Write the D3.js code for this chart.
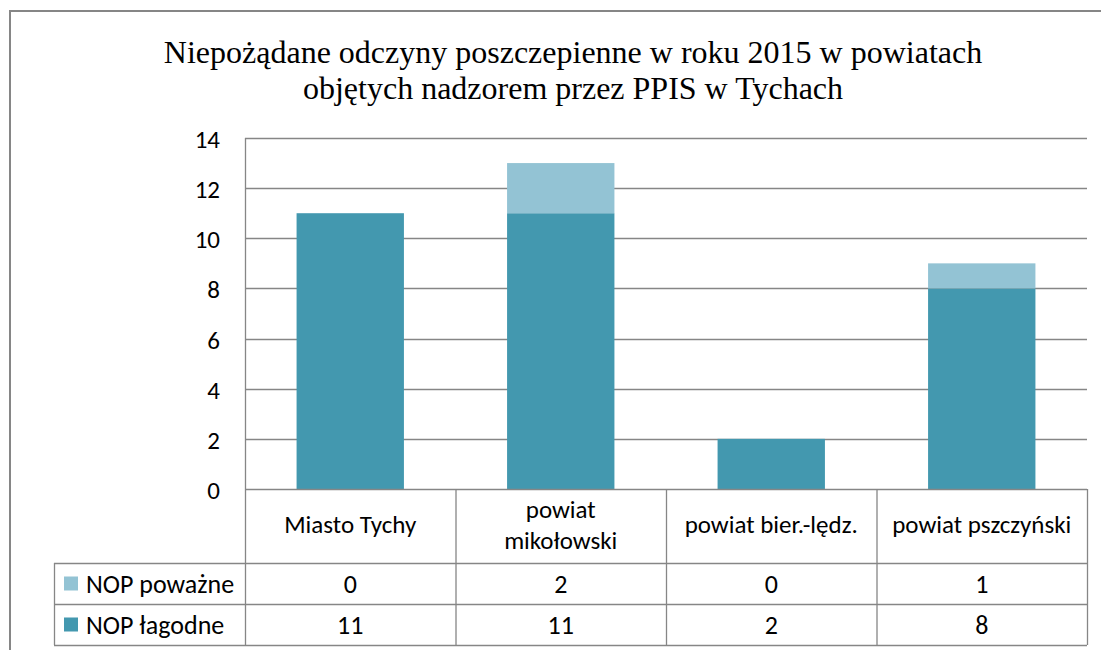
<!DOCTYPE html>
<html>
<head>
<meta charset="utf-8">
<script src="https://cdn.jsdelivr.net/npm/d3@7"></script>
<style>
  body { margin: 0; background: #fff; }
  svg text { fill: #000; }
</style>
</head>
<body>
<svg id="chart" width="1101" height="650"></svg>
<script>
// chart data
const titleLines = ["Niepożądane odczyny poszczepienne w roku 2015 w powiatach",
                    "objętych nadzorem przez PPIS w Tychach"];
const categories = ["Miasto Tychy", "powiat\nmikołowski", "powiat bier.-lędz.", "powiat pszczyński"];
const seriesNames = ["NOP poważne", "NOP łagodne"];
const seriesColors = ["#93c3d4", "#4398af"];
const powazne = [0, 2, 0, 1];
const lagodne = [11, 11, 2, 8];
const yTicks = [0, 2, 4, 6, 8, 10, 12, 14];

const svg = d3.select("#chart");
const gridColor = "#868686";
const sansFont = "Carlito, Lato, 'Liberation Sans', sans-serif";

// layout
const plot = {left: 245, right: 1087, top: 138, bottom: 489};
const tableLeft = 54;
const rowY = [489, 563, 604, 645];

const x = d3.scaleBand()
    .domain(d3.range(categories.length))
    .range([plot.left, plot.right])
    .paddingInner(0.49)
    .paddingOuter(0.245);

const xCol = d3.scaleBand()
    .domain(d3.range(categories.length))
    .range([plot.left, plot.right]);

const y = d3.scaleLinear()
    .domain([0, 14])
    .range([plot.bottom, plot.top]);

// outer frame
svg.append("rect")
    .attr("x", 10).attr("y", 11)
    .attr("width", 1200).attr("height", 800)
    .attr("fill", "none")
    .attr("stroke", gridColor)
    .attr("stroke-width", 2);

// title
svg.append("g").selectAll("text")
    .data(titleLines).enter().append("text")
    .attr("x", 573)
    .attr("y", (d, i) => 63 + i * 36)
    .attr("text-anchor", "middle")
    .style("font-family", "'Liberation Serif', 'Times New Roman', serif")
    .style("font-size", "32px")
    .text(d => d);

// gridlines
svg.append("g").selectAll("line")
    .data(yTicks.filter(d => d > 0)).enter().append("line")
    .attr("x1", plot.left).attr("x2", plot.right)
    .attr("y1", d => Math.round(y(d)) + 0.5)
    .attr("y2", d => Math.round(y(d)) + 0.5)
    .attr("stroke", gridColor)
    .attr("stroke-width", 1.3);

// y axis labels
const yAxis = d3.axisLeft(y).tickValues(yTicks).tickSize(0).tickPadding(25);
const yg = svg.append("g")
    .attr("transform", `translate(${plot.left},0)`)
    .call(yAxis);
yg.select(".domain").remove();
yg.selectAll("text")
    .attr("dy", "0.38em")
    .style("font-family", sansFont)
    .style("font-size", "25px")
    .attr("fill", "#000");

// stacked bars
const stacked = d3.stack().keys([1, 0])
    .value((d, k) => k === 1 ? lagodne[d] : powazne[d])(d3.range(categories.length));

svg.append("g").selectAll("g")
    .data(stacked).enter().append("g")
    .attr("fill", d => seriesColors[d.key])
    .selectAll("rect")
    .data(d => d.map((v, i) => ({v, i}))).enter().append("rect")
    .attr("x", d => x(d.i))
    .attr("width", x.bandwidth())
    .attr("y", d => y(d.v[1]))
    .attr("height", d => y(d.v[0]) - y(d.v[1]));

// data table
const table = svg.append("g")
    .attr("stroke", gridColor)
    .attr("stroke-width", 1.3);

table.selectAll("line.h")
    .data(rowY).enter().append("line")
    .attr("x1", (d, i) => i === 0 ? plot.left : tableLeft)
    .attr("x2", plot.right)
    .attr("y1", d => d + 0.5).attr("y2", d => d + 0.5);

// plot left border and column separators
table.append("line")
    .attr("x1", plot.left + 0.5).attr("x2", plot.left + 0.5)
    .attr("y1", plot.top).attr("y2", rowY[3]);
table.append("line")
    .attr("x1", tableLeft + 0.5).attr("x2", tableLeft + 0.5)
    .attr("y1", rowY[1]).attr("y2", rowY[3]);
table.selectAll("line.v")
    .data(d3.range(categories.length)).enter().append("line")
    .attr("x1", d => xCol(d) + xCol.bandwidth() + 0.5)
    .attr("x2", d => xCol(d) + xCol.bandwidth() + 0.5)
    .attr("y1", rowY[0]).attr("y2", rowY[3]);

// category labels
const headerMid = (rowY[0] + rowY[1]) / 2;
svg.append("g").selectAll("text")
    .data(categories).enter().append("text")
    .attr("x", (d, i) => xCol(i) + xCol.bandwidth() / 2)
    .attr("text-anchor", "middle")
    .style("font-family", sansFont)
    .style("font-size", "25px")
    .each(function(d) {
        const lines = d.split("\n");
        d3.select(this).selectAll("tspan")
            .data(lines).enter().append("tspan")
            .attr("x", d3.select(this).attr("x"))
            .attr("y", (l, j) => headerMid + 7 + (j - (lines.length - 1) / 2) * 31)
            .text(l => l);
    });

// table rows
const rows = [powazne, lagodne];
rows.forEach((vals, r) => {
    const mid = (rowY[r + 1] + rowY[r + 2]) / 2;
    svg.append("rect")
        .attr("x", 64).attr("y", mid - 7)
        .attr("width", 14).attr("height", 14)
        .attr("fill", seriesColors[r]);
    svg.append("text")
        .attr("x", 86).attr("y", mid + 9)
        .style("font-family", sansFont)
        .style("font-size", "26px")
        .text(seriesNames[r]);
    svg.append("g").selectAll("text")
        .data(vals).enter().append("text")
        .attr("x", (d, i) => xCol(i) + xCol.bandwidth() / 2)
        .attr("y", mid + 9)
        .attr("text-anchor", "middle")
        .style("font-family", sansFont)
        .style("font-size", "26px")
        .text(d => d);
});
</script>
</body>
</html>
